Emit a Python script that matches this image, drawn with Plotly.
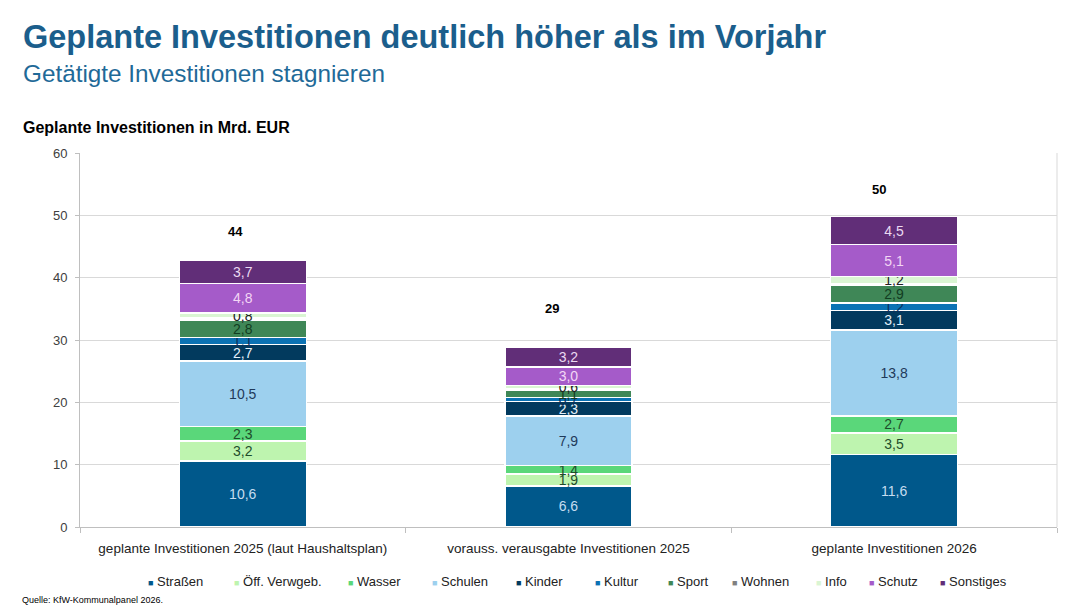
import plotly.graph_objects as go

categories = [
    "geplante Investitionen 2025 (laut Haushaltsplan)",
    "vorauss. verausgabte Investitionen 2025",
    "geplante Investitionen 2026",
]
series_names = ["Straßen", "Öff. Verwgeb.", "Wasser", "Schulen", "Kinder", "Kultur",
                "Sport", "Wohnen", "Info", "Schutz", "Sonstiges"]
strassen = [10.6, 6.6, 11.6]
oeff = [3.2, 1.9, 3.5]
wasser = [2.3, 1.4, 2.7]
schulen = [10.5, 7.9, 13.8]
kinder = [2.7, 2.3, 3.1]
kultur = [1.1, 0.7, 1.2]
sport = [2.8, 1.1, 2.9]
wohnen = [0.3, 0.2, 0.2]
info = [0.8, 0.6, 1.2]
schutz = [4.8, 3.0, 5.1]
sonstiges = [3.7, 3.2, 4.5]
total_labels = ["44", "29", "50"]
y_ticks = [0, 10, 20, 30, 40, 50, 60]

values = [strassen, oeff, wasser, schulen, kinder, kultur, sport, wohnen, info, schutz, sonstiges]
colors = ["#00588B", "#BEF4AF", "#5AD77A", "#9DD0EE", "#023A5E", "#0B72B4",
          "#3F8757", "#808080", "#DAF5D3", "#A55BC9", "#612E78"]
text_colors = ["#C6DDF0", "#1E4D2B", "#1E4D2B", "#1F3A5A", "#E4F0FA", "#0B2F5B",
               "#123D22", "#FFFFFF", "#222222", "#F3D6F5", "#EAD9F2"]
show_label = [True, True, True, True, True, True, True, False, True, True, True]

fig = go.Figure()
for name, vals, col, tcol, show in zip(series_names, values, colors, text_colors, show_label):
    fig.add_trace(go.Bar(
        x=categories, y=vals, name=name,
        marker=dict(color=col, line=dict(color="white", width=1.5)),
        texttemplate="%{y:.1f}" if show else "",
        textposition="inside", insidetextanchor="middle", constraintext="none",
        textfont=dict(color=tcol, size=14, family="Liberation Sans, Arial"),
        width=0.39, showlegend=False, hoverinfo="skip",
    ))

totals = [sum(v[i] for v in values) for i in range(len(categories))]
label_offsets = [4.6, 6.2, 4.3]
label_shift = [-7, -17, -15]
for cat, tot, lab, off, sh in zip(categories, totals, total_labels, label_offsets, label_shift):
    fig.add_annotation(x=cat, y=tot + off, text="<b>" + lab + "</b>", showarrow=False,
                       xshift=sh, font=dict(size=13, color="#000000", family="Liberation Sans, Arial"))

L, R, T, B = 80, 23, 153, 81
W, H = 1080, 608
pw, ph = W - L - R, H - T - B


def px(x):
    return (x - L) / pw


def py(y):
    return (H - B - y) / ph


fig.add_annotation(xref="paper", yref="paper", x=px(21), y=py(37), xanchor="left", yanchor="middle",
                   text="<b>Geplante Investitionen deutlich höher als im Vorjahr</b>", showarrow=False,
                   font=dict(size=32.5, color="#1B5E8C", family="Liberation Sans, Arial"))
fig.add_annotation(xref="paper", yref="paper", x=px(21), y=py(73), xanchor="left", yanchor="middle",
                   text="Getätigte Investitionen stagnieren", showarrow=False,
                   font=dict(size=24.3, color="#1F6A98", family="Liberation Sans, Arial"))
fig.add_annotation(xref="paper", yref="paper", x=px(21), y=py(128), xanchor="left", yanchor="middle",
                   text="<b>Geplante Investitionen in Mrd. EUR</b>", showarrow=False,
                   font=dict(size=16, color="#000000", family="Liberation Sans, Arial"))
fig.add_annotation(xref="paper", yref="paper", x=px(20), y=py(600), xanchor="left", yanchor="middle",
                   text="Quelle: KfW-Kommunalpanel 2026.", showarrow=False,
                   font=dict(size=9, color="#000000", family="Liberation Sans, Arial"))

# legend row (layout positions of legend entries)
legend_x = [146, 232, 346, 430, 514, 593, 666, 730, 814, 867, 938]
for name, col, lx in zip(series_names, colors, legend_x):
    fig.add_annotation(
        xref="paper", yref="paper", x=px(lx), y=py(581), xanchor="left", yanchor="middle",
        text='<span style="color:%s;font-size:9px">■</span> %s' % (col, name),
        showarrow=False, font=dict(size=13, color="#222222", family="Liberation Sans, Arial"),
    )

fig.update_layout(
    width=W, height=H,
    margin=dict(l=L, r=R, t=T, b=B),
    barmode="stack",
    separators=",.",
    plot_bgcolor="white", paper_bgcolor="white",
    font=dict(family="Liberation Sans, Arial", color="#404040"),
    showlegend=False,
    hovermode=False,
)
fig.update_xaxes(
    showline=True, linecolor="#BFBFBF", linewidth=1,
    ticks="outside", tickson="boundaries", ticklen=5, tickcolor="#BFBFBF",
    tickfont=dict(size=13.5, color="#222222", family="Liberation Sans, Arial"),
    ticklabelstandoff=9,
    showgrid=False,
)
fig.update_yaxes(
    range=[0, 60], tickvals=y_ticks,
    showgrid=True, gridcolor="#D9D9D9", gridwidth=1,
    showline=True, linecolor="#BFBFBF", linewidth=1,
    ticks="outside", ticklen=4, tickcolor="#BFBFBF",
    tickfont=dict(size=13, color="#404040"), zeroline=False,
    ticklabelstandoff=5,
)
fig.add_shape(type="line", xref="paper", yref="paper", x0=1, x1=1, y0=0, y1=1,
              line=dict(color="#D9D9D9", width=1))

fig.write_html("out.html")
